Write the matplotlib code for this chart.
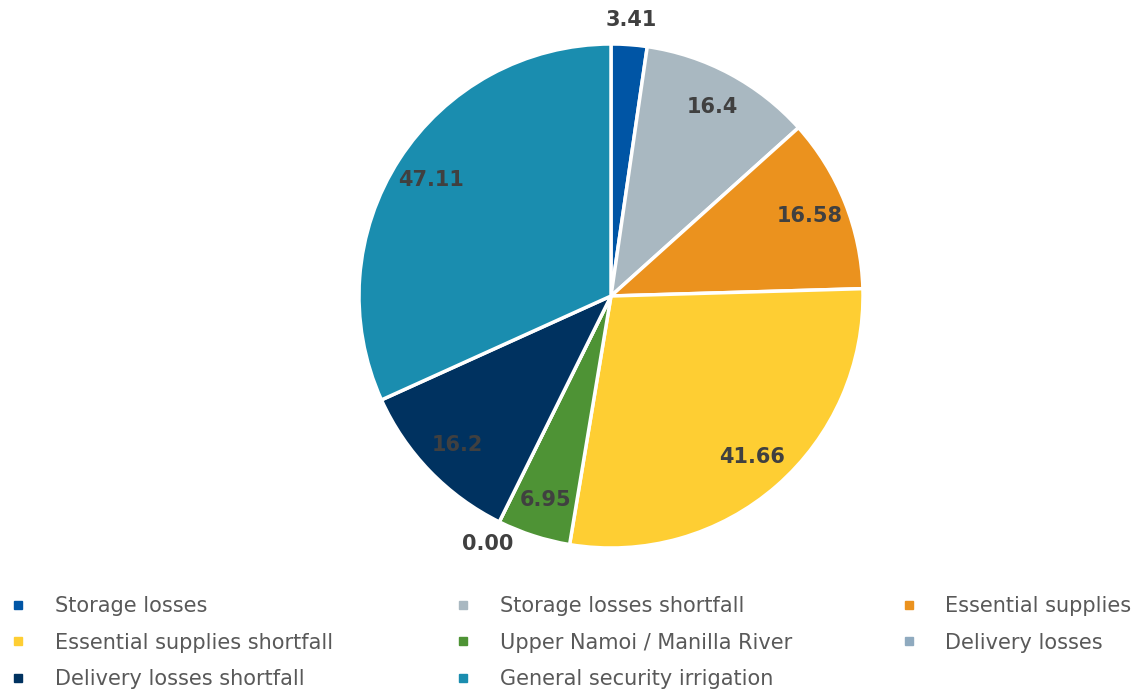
import matplotlib.pyplot as plt
from matplotlib.lines import Line2D
import numpy as np

categories = ["Storage losses", "Storage losses shortfall", "Essential supplies",
              "Essential supplies shortfall", "Upper Namoi / Manilla River",
              "Delivery losses", "Delivery losses shortfall",
              "General security irrigation"]
values = [3.41, 16.4, 16.58, 41.66, 6.95, 0.00, 16.2, 47.11]
labels = ["3.41", "16.4", "16.58", "41.66", "6.95", "0.00", "16.2", "47.11"]
colors = ["#0055A5", "#A9B8C1", "#EB921E", "#FECE33", "#4E9335",
          "#8FAABF", "#003260", "#1A8DAF"]
outside = [True, False, False, False, False, True, False, False]

plt.rcParams['font.family'] = ['DejaVu Sans']

fig = plt.figure(figsize=(11.47, 6.93), dpi=100)
ax = fig.add_axes([359 / 1147, 1 - 548 / 693, 504 / 1147, 504 / 693])

wedges, _ = ax.pie(values, colors=colors, startangle=90, counterclock=False,
                   radius=1, wedgeprops=dict(edgecolor="white", linewidth=2.5))

total = sum(values)
ang = 90.0
for v, lab, out in zip(values, labels, outside):
    sweep = v / total * 360
    mid = np.deg2rad(ang - sweep / 2)
    d = 1.1 if out else 0.85
    ax.text(d * np.cos(mid), d * np.sin(mid), lab, ha="center", va="center",
            fontsize=15, fontweight="bold", color="#404040")
    ang -= sweep

ax.set_xlim(-1, 1)
ax.set_ylim(-1, 1)
ax.set_aspect("equal")
ax.axis("off")

# legend, row-major order in three columns
col_x = [0.007, 0.395, 0.783]
for c in range(3):
    idx = list(range(c, len(categories), 3))
    handles = [Line2D([], [], marker="s", linestyle="none", markersize=6,
                      color=colors[i]) for i in idx]
    fig.legend(handles, [categories[i] for i in idx], loc="upper left",
               bbox_to_anchor=(col_x[c], 1 - 596 / 693), frameon=False,
               fontsize=15, labelcolor="#595959", handletextpad=1.25,
               handlelength=1.0, labelspacing=0.8, borderaxespad=0,
               borderpad=0)

fig.savefig("out.png", dpi=100)
